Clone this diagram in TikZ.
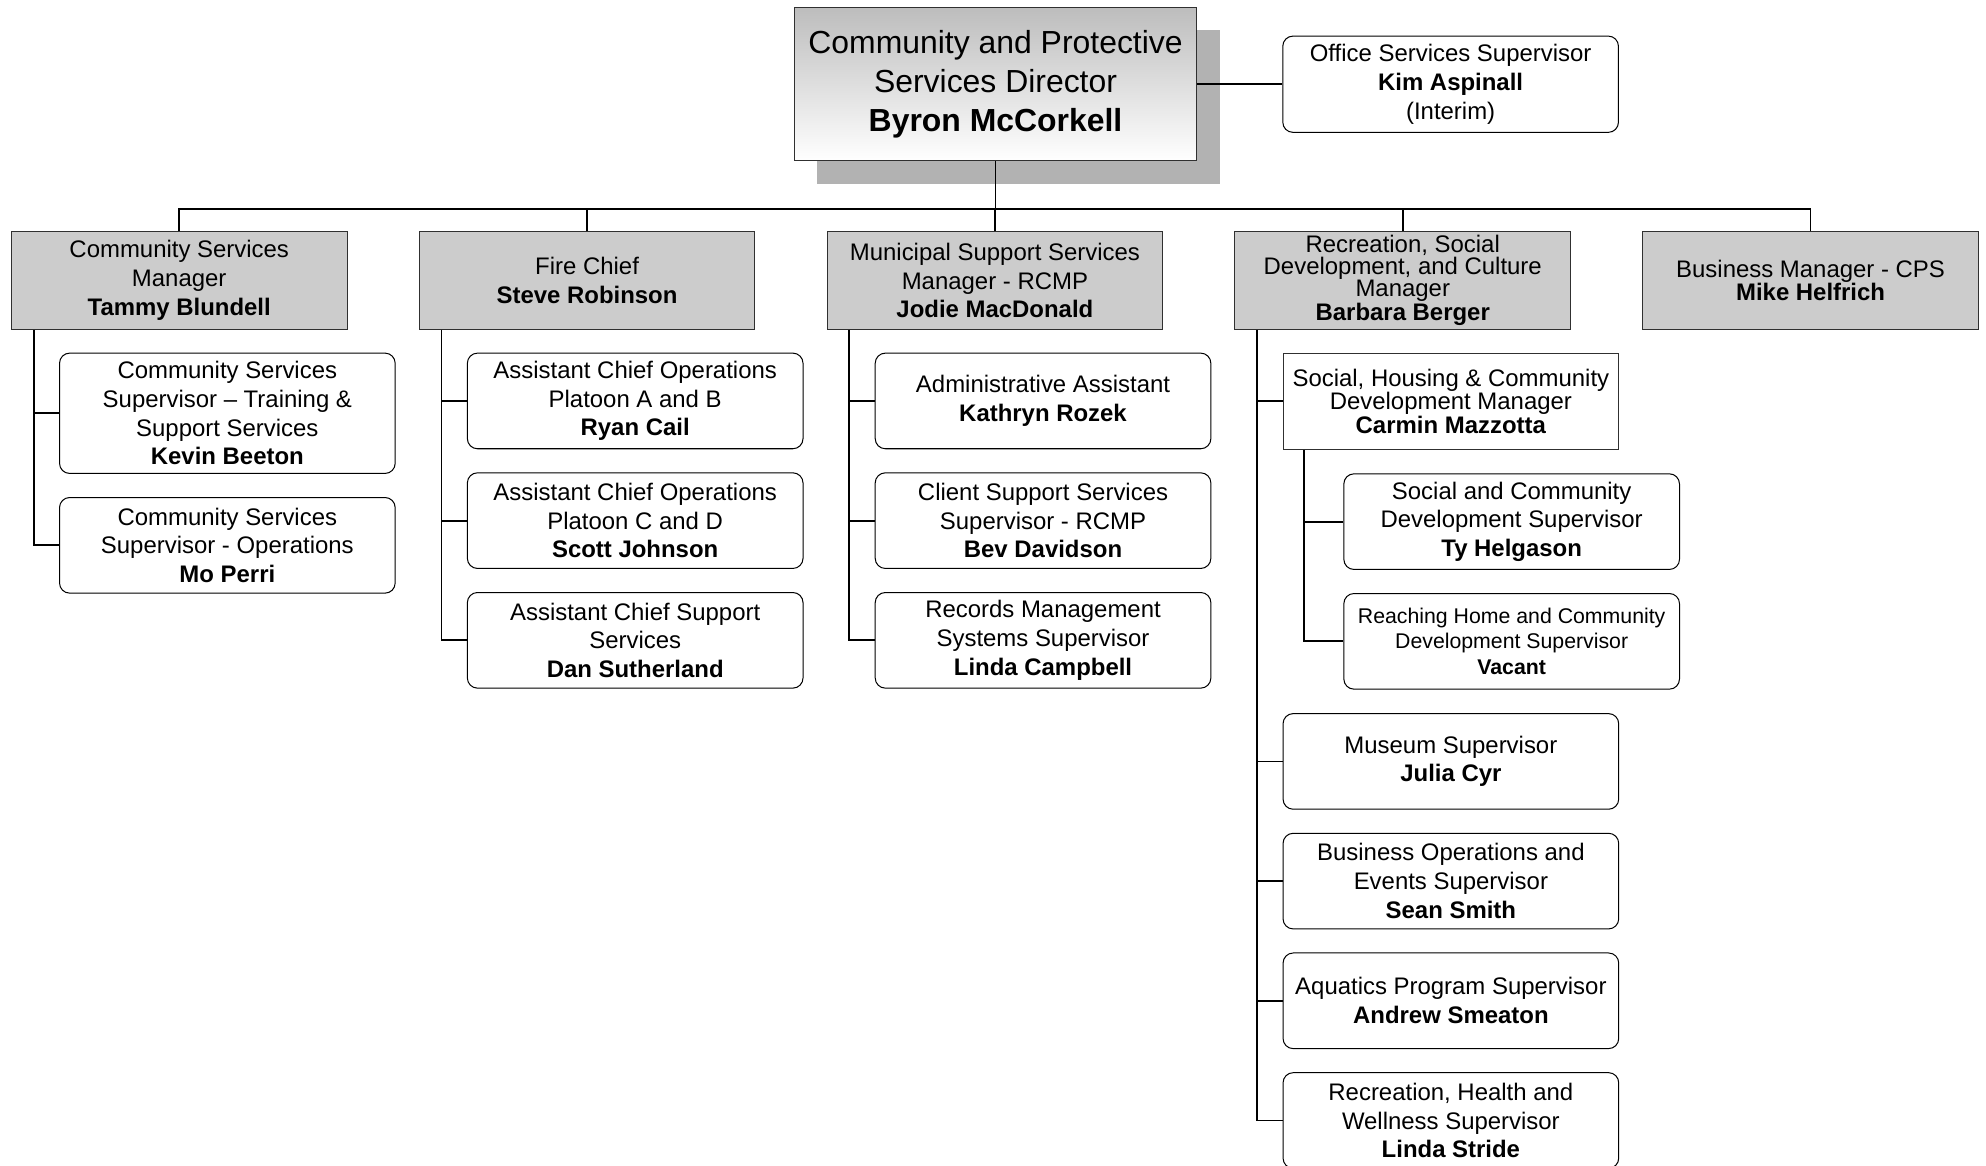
\documentclass[tikz,border=0pt]{standalone}
\usepackage{fontspec}
\setmainfont{Liberation Sans}
\usetikzlibrary{positioning,shadows,calc}

\definecolor{mgrgray}{HTML}{CCCCCC}
\definecolor{shadowgray}{HTML}{B2B2B2}
\definecolor{dirtop}{HTML}{BDBDBD}
\definecolor{edgegray}{HTML}{303030}

\newcommand{\stdfont}{\fontsize{18.9}{22.7}\selectfont}
\newcommand{\tightfont}{\fontsize{18.9}{17.3}\selectfont}
\newcommand{\smallfont}{\fontsize{16.8}{20.2}\selectfont}
\newcommand{\bigfont}{\fontsize{25.2}{30.6}\selectfont}

\tikzset{
  link/.style={line width=1.4pt, black},
  dirbox/.style={draw=edgegray, line width=0.8pt, top color=dirtop, bottom color=white,
    minimum width=318pt, minimum height=121pt, inner sep=0pt, align=center, font=\bigfont,
    drop shadow={shadow xshift=18pt, shadow yshift=-18pt, fill=shadowgray, opacity=1}},
  mgrbox/.style={draw=edgegray, line width=0.8pt, fill=mgrgray, minimum width=265pt,
    minimum height=77pt, inner sep=0pt, align=center, font=\stdfont},
  staffbox/.style={draw=black, line width=0.8pt, fill=white, rounded corners=8pt,
    minimum width=265pt, minimum height=75.5pt, inner sep=0pt, align=center, font=\stdfont},
  subbox/.style={draw=edgegray, line width=0.8pt, fill=white, minimum width=265pt,
    minimum height=76pt, inner sep=0pt, align=center, font=\tightfont}
}

\begin{document}
\begin{tikzpicture}[x=1pt, y=1pt, node distance=18.2pt]
  \useasboundingbox (0,0) rectangle (1568,-920);

  % director and office
  \node [dirbox] (dir) at (786,-66.5) {Community and Protective\\Services Director\\\textbf{Byron McCorkell}};
  \node [staffbox, minimum height=76pt, right=67pt of dir] (office) {Office Services Supervisor\\\textbf{Kim Aspinall}\\(Interim)};

  % managers
  \node [mgrbox] (cs) at (141.5,-221.5) {Community Services\\Manager\\\textbf{Tammy Blundell}};
  \node [mgrbox, right=56.2pt of cs] (fire) {Fire Chief\\\textbf{Steve Robinson}};
  \node [mgrbox, right=56.2pt of fire] (msc) {Municipal Support Services\\Manager - RCMP\\\textbf{Jodie MacDonald}};
  \node [mgrbox, right=56.2pt of msc, font=\tightfont] (rec) {Recreation, Social\\Development, and Culture\\Manager\\\textbf{Barbara Berger}};
  \node [mgrbox, right=56.2pt of rec, font=\tightfont] (biz) {Business Manager - CPS\\\textbf{Mike Helfrich}};

  % community services
  \node [staffbox, minimum height=95pt, anchor=north west] (kevin) at ([xshift=38pt,yshift=-18pt]cs.south west) {Community Services\\Supervisor – Training \&\\Support Services\\\textbf{Kevin Beeton}};
  \node [staffbox, below=of kevin] (mo) {Community Services\\Supervisor - Operations\\\textbf{Mo Perri}};

  % fire
  \node [staffbox, anchor=north west] (ryan) at ([xshift=38pt,yshift=-18pt]fire.south west) {Assistant Chief Operations\\Platoon A and B\\\textbf{Ryan Cail}};
  \node [staffbox, below=of ryan] (scott) {Assistant Chief Operations\\Platoon C and D\\\textbf{Scott Johnson}};
  \node [staffbox, below=of scott] (dan) {Assistant Chief Support\\Services\\\textbf{Dan Sutherland}};

  % municipal support
  \node [staffbox, anchor=north west] (kathryn) at ([xshift=38pt,yshift=-18pt]msc.south west) {Administrative Assistant\\\textbf{Kathryn Rozek}};
  \node [staffbox, below=of kathryn] (bev) {Client Support Services\\Supervisor - RCMP\\\textbf{Bev Davidson}};
  \node [staffbox, below=of bev] (lindac) {Records Management\\Systems Supervisor\\\textbf{Linda Campbell}};

  % recreation
  \node [subbox, anchor=north west] (carmin) at ([xshift=38pt,yshift=-18pt]rec.south west) {Social, Housing \& Community\\Development Manager\\\textbf{Carmin Mazzotta}};
  \node [staffbox, anchor=north west] (ty) at ([xshift=48pt,yshift=-18.5pt]carmin.south west) {Social and Community\\Development Supervisor\\\textbf{Ty Helgason}};
  \node [staffbox, below=of ty, font=\smallfont] (vacant) {Reaching Home and Community\\Development Supervisor\\\textbf{Vacant}};
  \node [staffbox, anchor=north west] (julia) at ($(carmin.south west |- vacant.south)+(0,-18.5)$) {Museum Supervisor\\\textbf{Julia Cyr}};
  \node [staffbox, below=of julia] (sean) {Business Operations and\\Events Supervisor\\\textbf{Sean Smith}};
  \node [staffbox, below=of sean] (andrew) {Aquatics Program Supervisor\\\textbf{Andrew Smeaton}};
  \node [staffbox, below=of andrew] (lindas) {Recreation, Health and\\Wellness Supervisor\\\textbf{Linda Stride}};

  % top links
  \coordinate (bar) at (0,-165);
  \draw [link] (dir) -- (office);
  \draw [link] (dir.south) -- (dir.south |- bar);
  \draw [link] (cs.north) |- (biz.north |- bar) -- (biz.north);
  \foreach \m in {fire,msc,rec}
    \draw [link] (\m.north) -- (\m.north |- bar);

  % spines
  \coordinate (csspine) at ([xshift=18pt]cs.south west);
  \coordinate (firespine) at ([xshift=18pt]fire.south west);
  \coordinate (mscspine) at ([xshift=18pt]msc.south west);
  \coordinate (recspine) at ([xshift=18pt]rec.south west);
  \coordinate (carspine) at ([xshift=17pt]carmin.south west);

  \draw [link] (csspine) |- (mo.west);
  \draw [link] (csspine |- kevin.west) -- (kevin.west);
  \draw [link] (firespine) |- (dan.west);
  \foreach \k in {ryan,scott}
    \draw [link] (firespine |- \k.west) -- (\k.west);
  \draw [link] (mscspine) |- (lindac.west);
  \foreach \k in {kathryn,bev}
    \draw [link] (mscspine |- \k.west) -- (\k.west);
  \draw [link] (recspine) |- (lindas.west);
  \foreach \k in {carmin,julia,sean,andrew}
    \draw [link] (recspine |- \k.west) -- (\k.west);
  \draw [link] (carspine) |- (vacant.west);
  \draw [link] (carspine |- ty.west) -- (ty.west);
\end{tikzpicture}
\end{document}
